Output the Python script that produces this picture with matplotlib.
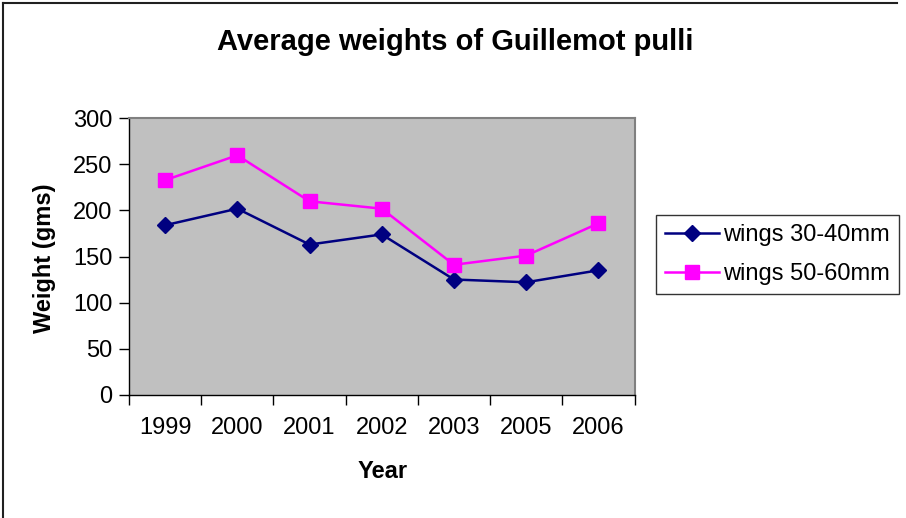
import numpy as np
import matplotlib.pyplot as plt
from matplotlib.lines import Line2D

plt.rcParams['font.family'] = ['Liberation Sans', 'DejaVu Sans']

years = ['1999', '2000', '2001', '2002', '2003', '2005', '2006']
wings_30_40 = [184, 202, 163, 174, 125, 122, 135]
wings_50_60 = [233, 260, 210, 202, 141, 151, 186]

W, H = 906, 518
fig = plt.figure(figsize=(W / 100, H / 100), dpi=100)
ax = fig.add_axes([129 / W, 1 - 394.5 / H, 505.5 / W, 276 / H])
ax.set_facecolor('#C0C0C0')

x = np.arange(len(years))
ax.plot(x, wings_30_40, color='#000080', marker='D', markersize=8.5, lw=1.8,
        label='wings 30-40mm')
ax.plot(x, wings_50_60, color='#FF00FF', marker='s', markersize=10.5, lw=1.8,
        label='wings 50-60mm')

ax.set_xlim(-0.5, len(years) - 0.5)
ax.set_ylim(0, 300)
ax.set_yticks(np.arange(0, 301, 50))
ax.set_xticks(np.arange(-0.5, len(years), 1.0))
ax.set_xticklabels([])
ax.set_xticks(x, minor=True)
ax.set_xticklabels(years, minor=True)
ax.tick_params(axis='x', which='minor', length=0, pad=16, labelsize=17)
ax.tick_params(axis='x', which='major', length=7, width=1, direction='out')
ax.tick_params(axis='y', length=7, width=1, direction='out', labelsize=17, pad=5)

for side in ['top', 'right']:
    ax.spines[side].set_color('#808080')
    ax.spines[side].set_linewidth(1.5)
for side in ['left', 'bottom']:
    ax.spines[side].set_color('black')
    ax.spines[side].set_linewidth(1)

fig.text(383 / W, 1 - 472 / H, 'Year', ha='center', va='center',
         fontsize=17, fontweight='bold')
fig.text(45 / W, 1 - 258 / H, 'Weight (gms)', ha='center', va='center',
         rotation=90, fontsize=17, fontweight='bold')
fig.text(455 / W, 1 - 42 / H, 'Average weights of Guillemot pulli', ha='center',
         va='center', fontsize=21, fontweight='bold')

leg = fig.legend(loc='upper left', bbox_to_anchor=(656 / W, 1 - 215 / H), fontsize=17,
                 frameon=True, fancybox=False, edgecolor='black', handlelength=2.25,
                 borderpad=0.4, labelspacing=0.7, handletextpad=0.2,
                 borderaxespad=0)
leg.get_frame().set_linewidth(1)

# frame edges of the chart area (only top and left visible)
fig.add_artist(Line2D([3 / W, 897 / W], [1 - 3 / H, 1 - 3 / H], color='#202020', lw=1.5,
                      transform=fig.transFigure))
fig.add_artist(Line2D([3 / W, 3 / W], [0, 1 - 3 / H], color='#202020', lw=1.5,
                      transform=fig.transFigure))

fig.savefig('out.png', dpi=100)
